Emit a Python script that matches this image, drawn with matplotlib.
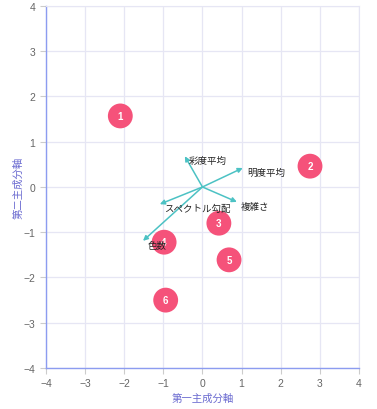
import matplotlib
matplotlib.use("Agg")
import matplotlib.pyplot as plt

plt.rcParams['font.family'] = ['Noto Sans CJK JP', 'DejaVu Sans']

# 主成分スコア
labels = ["1", "2", "3", "4", "5", "6"]
pc1 = [-2.1, 2.75, 0.42, -0.98, 0.68, -0.94]
pc2 = [1.57, 0.46, -0.80, -1.22, -1.61, -2.50]

# 負荷量ベクトル
features = ["彩度平均", "明度平均", "複雑さ", "スペクトル勾配", "色数"]
load_x = [-0.45, 1.03, 0.88, -1.09, -1.52]
load_y = [0.68, 0.42, -0.33, -0.38, -1.19]

ticks = [-4, -3, -2, -1, 0, 1, 2, 3, 4]

fig = plt.figure(figsize=(3.77, 4.10), dpi=100)
ax = fig.add_axes([0.122, 0.1, 0.830, 0.883])
ax.set_xlim(-4, 4)
ax.set_ylim(-4, 4)
ax.set_xticks(ticks)
ax.set_yticks(ticks)
ax.grid(True, color="#e6e6f4", lw=0.9)
ax.set_axisbelow(True)

for s in ["top", "right"]:
    ax.spines[s].set_color("#e6e6f4")
for s in ["left", "bottom"]:
    ax.spines[s].set_color("#8c9cf0")
    ax.spines[s].set_linewidth(1.0)

ax.tick_params(axis="both", colors="#cccccc", labelcolor="#666666", labelsize=7.5,
               length=4, width=0.8)
for t in ax.get_xticklabels() + ax.get_yticklabels():
    t.set_family(["Liberation Sans", "DejaVu Sans"])

ax.set_xlabel("第一主成分軸", color="#6a6ad0", fontsize=7.5, labelpad=3)
ax.set_ylabel("第二主成分軸", color="#6a6ad0", fontsize=7.5, labelpad=0)

# 矢印
for name, lx, ly in zip(features, load_x, load_y):
    ax.annotate("", xy=(lx, ly), xytext=(0, 0),
                arrowprops=dict(arrowstyle="-|>", color="#4cc2c4", lw=1.1,
                                mutation_scale=7, shrinkA=0, shrinkB=0))

# 点
ax.scatter(pc1, pc2, s=320, color="#f5527a", edgecolors="none", zorder=3)
for lab, x, y in zip(labels, pc1, pc2):
    ax.text(x, y, lab, color="white", fontsize=7, fontweight="bold",
            ha="center", va="center", zorder=4, family=["Liberation Sans", "DejaVu Sans"])

# 変数名は点の上に
for name, lx, ly in zip(features, load_x, load_y):
    ax.annotate(name, xy=(lx, ly), xytext=(3, -3), textcoords="offset points",
                fontsize=6.8, color="#222222", ha="left", va="center", zorder=5)

fig.savefig("out.png", dpi=100)
